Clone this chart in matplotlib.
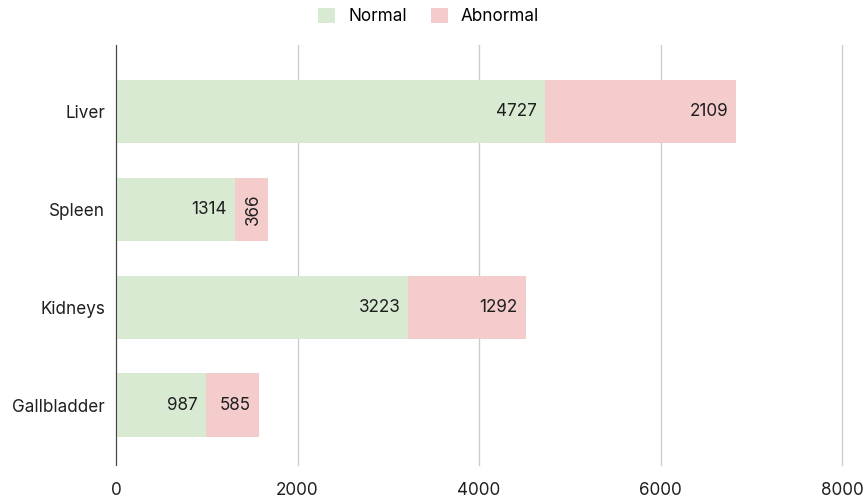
import matplotlib.pyplot as plt

plt.rcParams['font.family'] = ['Inter', 'DejaVu Sans']

organos = ['Liver', 'Spleen', 'Kidneys', 'Gallbladder']
normal = [4727, 1314, 3223, 987]
anormal = [2109, 366, 1292, 585]
ticks_x = [0, 2000, 4000, 6000, 8000]

verde = '#d9ead3'
rojo = '#f4cccc'
texto = '#1f1f1f'
fs = 12.3

fig = plt.figure(figsize=(8.66, 5), dpi=100)
ax = fig.add_axes([116 / 866, 35 / 500, 726 / 866, 420 / 500])

y = list(range(len(organos)))
b1 = ax.barh(y, normal, height=0.65, color=verde, label='Normal', zorder=2)
b2 = ax.barh(y, anormal, left=normal, height=0.65, color=rojo, label='Abnormal', zorder=2)

for i in y:
    ax.text(normal[i] - 90, i, str(normal[i]), ha='right', va='center', fontsize=fs, color=texto, zorder=3)
    fin = normal[i] + anormal[i]
    # el segmento corto lleva la etiqueta girada
    if anormal[i] < 500:
        ax.text(fin - 70, i, str(anormal[i]), ha='right', va='center', rotation=90,
                fontsize=fs, color=texto, zorder=3)
    else:
        ax.text(fin - 90, i, str(anormal[i]), ha='right', va='center', fontsize=fs, color=texto, zorder=3)

ax.set_xlim(0, 8000)
ax.set_ylim(3.61, -0.68)
ax.set_xticks(ticks_x)
ax.set_xticklabels([str(t) for t in ticks_x], fontsize=fs, color=texto)
ax.set_yticks(y)
ax.set_yticklabels(organos, fontsize=fs, color=texto)
ax.tick_params(length=0, pad=8)
ax.tick_params(axis='x', pad=12)
ax.grid(axis='x', color='#cccccc', linewidth=1, zorder=0)
for gl in ax.get_xgridlines():
    gl.set_clip_on(False)
for s in ['top', 'right', 'bottom']:
    ax.spines[s].set_visible(False)
ax.spines['left'].set_color('#444444')
ax.spines['left'].set_zorder(4)

fig.legend(handles=[b1, b2], loc='upper center', bbox_to_anchor=(0.495, 1.015), ncol=2, frameon=False,
           fontsize=fs, handlelength=1.0, handleheight=1.0, columnspacing=1.4, handletextpad=0.75)

plt.savefig('out.png', dpi=100)
